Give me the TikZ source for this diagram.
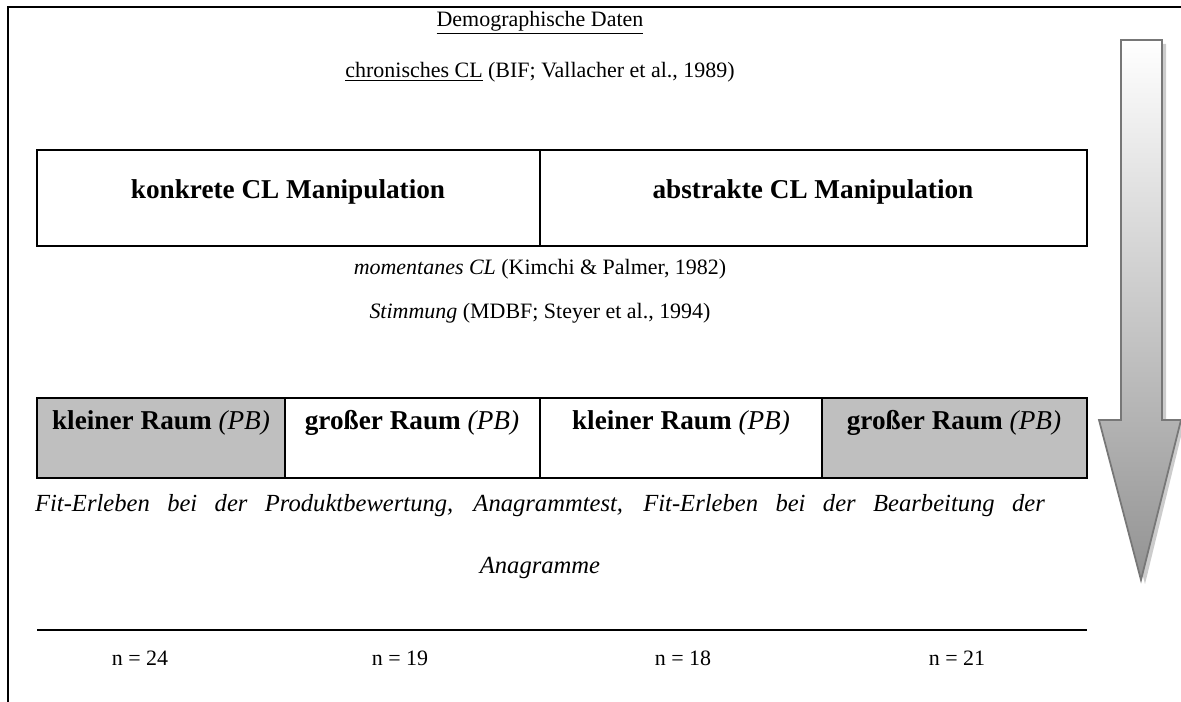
\documentclass[tikz,border=0pt]{standalone}
\usepackage{fontspec}
\setmainfont{Liberation Serif}
\definecolor{cellgray}{HTML}{BFBFBF}
\definecolor{arrowline}{HTML}{777777}
\tikzset{
  frame/.style={line width=1.1pt},
  cell/.style={line width=1pt},
  lbl/.style={inner sep=1pt},
  celltxt/.style={inner sep=1pt,font=\fontsize{15.5}{18}\selectfont\bfseries},
  fittxt/.style={inner sep=1pt,font=\fontsize{14}{17}\selectfont\itshape},
}
\begin{document}
\begin{tikzpicture}[x=.02cm,y=-.02cm,font=\fontsize{12.5}{15}\selectfont]
	\useasboundingbox(0,0)rectangle(1181,702);
	\coordinate(TL)at(8,7);
	\coordinate(TR)at(1181,7);
	\coordinate(BL)at(8,702);
	\coordinate(A)at(37,150);
	\coordinate(B)at(540,246);
	\coordinate(C)at(1087,150);
	\coordinate(R)at(37,398);
	\coordinate(S)at(1087,478);
	\coordinate(Lb)at(37,630);
	\coordinate(Le)at(1087,630);
	\draw[frame](BL)--(TL)--(TR);
	% obere Zeile
	\draw[cell](A)rectangle(B);
	\draw[cell](B)rectangle(C);
	% untere Zeile
	\fill[cellgray](R)rectangle(285,478);
	\fill[cellgray](822,398)rectangle(S);
	\draw[cell](R)rectangle(S);
	\foreach\x in {285,540,822}{\draw[cell](\x,398)--(\x,478);}
	\draw[cell](Lb)--(Le);
	% Pfeil
	\fill[gray!40](1124,44)--(1166,44)--(1166,424)--(1184,424)--(1145,584)--(1102,424)--(1124,424)--cycle;
	\shadedraw[top color=white,bottom color=gray!85,draw=arrowline,line width=1pt]
		(1121,40)--(1162,40)--(1162,420)--(1181,420)--(1141,580)--(1099,420)--(1121,420)--cycle;
	% Texte
	\node[lbl](demo)at(540,23){\underline{Demographische Daten}};
	\node[lbl](chron)at(540,72){\underline{chronisches CL} (BIF; Vallacher et al., 1989)};
	\node[celltxt](konk)at(288,192){konkrete CL Manipulation};
	\node[celltxt](abst)at(813,192){abstrakte CL Manipulation};
	\node[lbl](mom)at(540,269){\textit{momentanes CL} (Kimchi \& Palmer, 1982)};
	\node[lbl](stim)at(540,313){\textit{Stimmung} (MDBF; Steyer et al., 1994)};
	\node[celltxt](k1)at(161,423){kleiner Raum \textnormal{\textit{(PB)}}};
	\node[celltxt](g1)at(412,423){großer Raum \textnormal{\textit{(PB)}}};
	\node[celltxt](k2)at(681,423){kleiner Raum \textnormal{\textit{(PB)}}};
	\node[celltxt](g2)at(954,423){großer Raum \textnormal{\textit{(PB)}}};
	\node[fittxt](fit)at(540,506){\makebox[20.2cm][s]{Fit-Erleben bei der Produktbewertung, Anagrammtest, Fit-Erleben bei der Bearbeitung der}};
	\node[fittxt](ana)at(540,568){Anagramme};
	\foreach\n/\x/\v in {n1/140/24,n2/400/19,n3/683/18,n4/957/21}{%
	\node[lbl](\n)at(\x,658){n = \v};}
\end{tikzpicture}
\end{document}
